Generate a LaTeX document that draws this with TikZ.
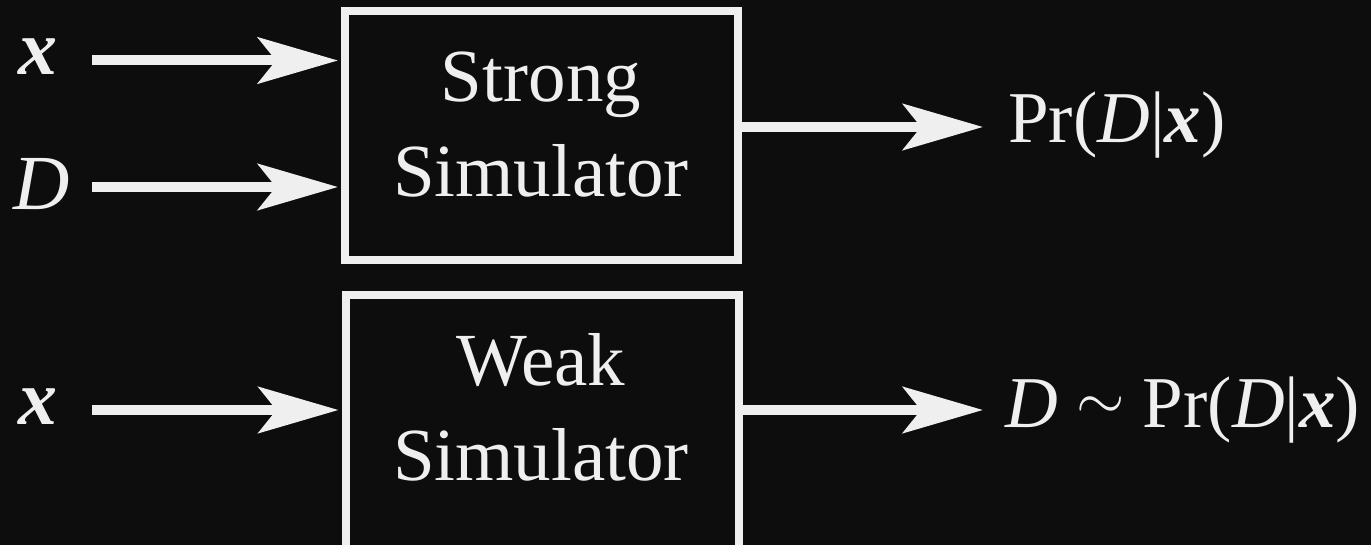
\documentclass[tikz,border=0pt]{standalone}
\usepackage{fontspec}
\setmainfont{Liberation Serif}
\usetikzlibrary{arrows.meta}
\definecolor{bg}{HTML}{0D0D0D}
\definecolor{fg}{HTML}{EFEFEF}
\tikzset{
  simbox/.style={draw=fg, line width=8pt, fill=bg, minimum width=393pt, inner sep=0pt},
  boxtxt/.style={text=fg, inner sep=0pt, font=\fontsize{75}{95}\selectfont},
  lbl/.style={text=fg, inner sep=0pt, font=\fontsize{78}{90}\selectfont},
  outlbl/.style={text=fg, inner sep=0pt, font=\fontsize{73}{90}\selectfont},
  conn/.style={draw=fg, line width=10pt, -{Stealth[length=80pt,width=46pt,inset=18pt]}}
}
\newcommand{\bigsim}{\raisebox{8pt}{\scalebox{2.5}{$\sim$}}}
\begin{document}
\begin{tikzpicture}[x=1pt,y=-1pt]
\fill[bg] (0,0) rectangle (1371,545);
\useasboundingbox (0,0) rectangle (1371,545);
\clip (0,0) rectangle (1371,545);

% boxes
\node[simbox, minimum height=249pt] (strong) at (541.5,135.5) {};
\node[simbox, minimum height=265pt] (weak) at (542,427.5) {};

\node[boxtxt, anchor=base] (st1) at (541,102) {Strong};
\node[boxtxt, anchor=base] (st2) at (541,197) {Simulator};
\node[boxtxt, anchor=base] (wt1) at (541,385) {Weak};
\node[boxtxt, anchor=base] (wt2) at (541,480) {Simulator};

% input labels
\node[lbl, anchor=base] (xa) at (38,75) {\textbf{\textit{x}}};
\node[lbl, anchor=base] (da) at (42,210) {\textit{D}};
\node[lbl, anchor=base] (xb) at (38,424.5) {\textbf{\textit{x}}};

% output labels
\node[outlbl, anchor=base west] (pa) at (1008,143) {Pr(\textit{D}|\textbf{\textit{x}})};
\node[outlbl, anchor=base west] (pb) at (1005,427) {\textit{D} \bigsim{} Pr(\textit{D}|\textbf{\textit{x}})};

% arrow endpoints
\coordinate (sa) at (92,60.5);
\coordinate (sd) at (92,187);
\coordinate (sb) at (92,410);
\coordinate (ta) at (983,127);
\coordinate (tb) at (983,410);

\draw[conn, shorten >=3pt] (sa) -- (strong.west |- sa);
\draw[conn, shorten >=3pt] (sd) -- (strong.west |- sd);
\draw[conn, shorten >=3pt] (sb) -- (weak.west |- sb);
\draw[conn] (strong.east |- ta) -- (ta);
\draw[conn] (weak.east |- tb) -- (tb);
\end{tikzpicture}
\end{document}
